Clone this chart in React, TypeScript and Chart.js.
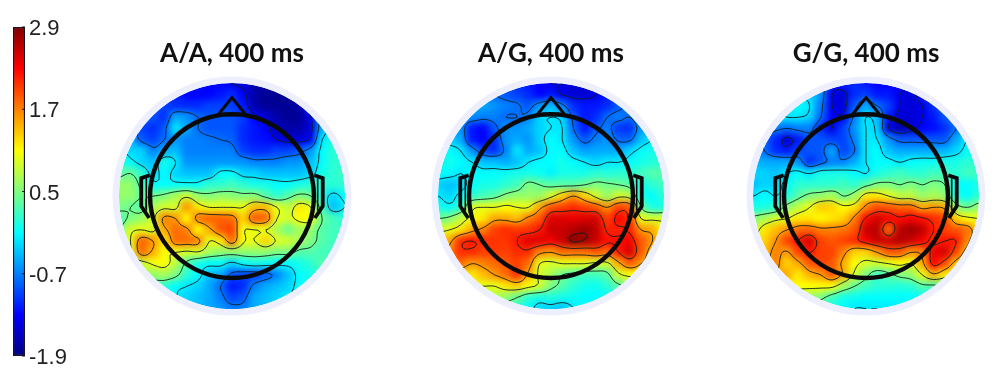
import React, { useEffect, useRef } from "react";
import { Chart, registerables } from "chart.js";
Chart.register(...registerables);

const TITLES = ["A/A, 400 ms", "A/G, 400 ms", "G/G, 400 ms"];
const CENTERS_X = [232, 551, 866];
const VALUE_MIN = -1.9;
const VALUE_MAX = 2.9;
const COLORBAR_TICKS = [-1.9, -0.7, 0.5, 1.7, 2.9];
const CONTOUR_LEVELS = [-1.4, -0.8, -0.2, 0.4, 1.0, 1.6, 2.2, 2.8];

const HEAD_AA = [
  [-.8,-.8,-.8,-.8,-.9,-1.0,-1.1,-1.2,-1.3,-1.3,-1.4,-1.5,-1.7,-1.7,-1.7,-1.6,-1.4,-1.0,-.6,-.3,-.2],
  [-.8,-.8,-.8,-.9,-1.0,-1.1,-1.3,-1.3,-1.3,-1.2,-1.1,-1.3,-1.7,-1.8,-1.8,-1.8,-1.5,-1.1,-.6,-.3,-.2],
  [-.6,-.7,-.8,-.9,-1.0,-1.1,-1.1,-1.1,-1.0,-1.0,-1.0,-1.2,-1.7,-1.8,-1.8,-1.8,-1.7,-1.2,-.6,-.3,-.2],
  [-.4,-.6,-.8,-.9,-1.1,-.5,-.6,-.8,-.9,-.9,-.9,-1.0,-1.3,-1.5,-1.7,-1.8,-1.8,-1.4,-.6,-.3,-.1],
  [-.3,-.6,-1.0,-1.1,-.9,-.2,-.5,-.8,-.9,-.9,-.9,-1.1,-1.2,-1.3,-1.6,-1.7,-1.7,-1.5,-.5,-.1,0],
  [-.2,-.4,-.9,-1.0,-.8,-.6,-.7,-.7,-.75,-.8,-.85,-1.1,-1.2,-1.25,-1.4,-1.5,-1.5,-1.3,-.2,0,.1],
  [-.1,-.3,-.3,-.7,-.5,-.4,-.7,-.7,-.7,-.7,-.7,-1,-1.1,-1.1,-1,-1,-.9,-.6,-.1,.1,.1],
  [.1,-.1,-.3,-.4,0,-.2,-.6,-.6,-.6,-.6,-.6,-.6,-.7,-.7,-.7,-.6,-.6,-.4,-.1,.1,.1],
  [.3,.4,.1,-.3,-.1,-.3,-.4,-.4,-.4,-.1,-.1,-.3,-.3,-.4,-.4,-.4,-.4,-.3,0,.1,.2],
  [.6,.6,.3,-.1,-.1,-.1,-.1,-.1,.1,.1,.2,.1,0,0,-.1,-.1,0,.1,.1,.1,.1],
  [.6,.6,.4,.4,.5,.7,.9,.6,.5,.6,.55,.5,.55,.3,.1,.3,.5,.4,0,-.3,-.1],
  [.5,.4,.3,.7,.9,.9,1.6,1.2,1,1,1,1,1.4,1.4,1,.8,1.2,1.0,.2,-.4,-.2],
  [.2,.5,.6,.9,1.7,1.6,1.1,1.75,1.85,1.85,1.8,1.3,1.9,1.85,1.0,.9,1.1,1.1,.4,.2,.1],
  [.4,.9,1.0,.9,1.5,1.8,1.7,1.1,1.5,1.9,2.0,1.05,1.0,1.0,.7,.4,.7,.6,.3,.2,.2],
  [.5,1.0,1.85,1.6,1.2,1.8,1.8,1.7,1.0,1.2,1.8,1.05,1.0,1.3,.95,.9,.7,.5,.3,.2,.2],
  [.4,.9,1.8,1.5,1.1,1.0,.9,.95,.7,.6,.6,.6,.6,.6,.5,.5,.3,.3,.2,.2,.2],
  [.4,.7,.8,1.05,1.1,.8,.3,0,-.1,-.1,-.3,-.1,0,-.05,-.1,-.1,0,.1,.3,.2,.2],
  [.4,.6,.7,.6,.7,.5,.1,-.1,-.4,-.5,-.9,-1,-1,-.9,-.7,-.4,-.1,0,.1,.2,.2],
  [.3,.3,.3,.2,.1,-.1,-.2,-.3,-.5,-.8,-1.2,-1.1,-.7,-.5,-.4,-.3,-.1,0,.1,.1,.1],
  [.1,.1,.1,0,-.1,-.2,-.3,-.4,-.5,-.7,-1.0,-.9,-.5,-.4,-.3,-.2,-.1,0,0,0,0],
  [0,0,-.1,-.1,-.2,-.3,-.3,-.4,-.5,-.6,-.7,-.7,-.5,-.4,-.3,-.2,-.1,-.1,0,0,0],
];

const HEAD_AG = [
  [-.7,-.7,-.7,-.7,-.7,-.8,-.9,-1.1,-1.2,-1.3,-1.4,-1.4,-1.5,-1.5,-1.4,-1.2,-1,-.8,-.6,-.4,-.3],
  [-.7,-.7,-.7,-.7,-.7,-.8,-.9,-1,-1.1,-1.3,-1.2,-1.4,-1.5,-1.5,-1.4,-1.2,-1,-.8,-.6,-.4,-.3],
  [-.6,-.6,-.6,-.6,-.5,-.6,-.7,-.75,-.9,-.6,-.4,-.7,-1.1,-1.2,-1.2,-1.1,-.9,-.7,-.6,-.4,-.3],
  [-.5,-.5,-.6,-.6,-.7,-.7,-.8,-.8,-.7,-.3,-.2,-.3,-.9,-1.2,-1.1,-.8,-.7,-.8,-.5,-.4,-.3],
  [-.4,-.5,-.6,-1.2,-1.3,-.9,-.6,-.6,-.5,-.3,-.2,-.2,-.8,-1.2,-.9,-.7,-1.05,-1.1,-.6,-.3,-.2],
  [-.3,-.3,-.5,-1.2,-1.3,-1.1,-.6,-.5,-.6,-.3,-.1,-.2,-.6,-.9,-.7,-.6,-.85,-.85,-.4,-.2,-.1],
  [-.2,-.1,-.2,-.6,-1,-1.1,-.7,-.2,-.5,-.4,-.1,-.1,-.4,-.55,-.5,-.5,-.5,-.3,-.1,0,0],
  [-.2,0,-.1,-.2,-.4,-.4,-.5,-.4,-.2,-.1,-.1,0,-.1,-.2,-.3,-.2,-.2,-.1,0,.05,.1],
  [-.1,-.1,-.2,-.1,-.1,-.1,-.05,0,0,-.05,-.15,0,0,0,.1,.05,.1,.1,.2,.3,.3],
  [-.3,-.4,-.3,-.1,0,0,.1,.2,.5,.4,.3,.3,.3,.4,.5,.45,.4,.3,0,.1,.2],
  [-.2,-.3,-.1,.1,.2,.3,.5,.6,.6,.6,.9,1.3,1.6,1.3,.9,.6,.9,.8,0,-.1,.1],
  [0,-.1,.1,.9,1.0,1.0,1.1,1,1.0,1.5,1.9,2,2.1,2.0,1.9,1.6,2.0,1.9,.4,0,0],
  [.4,.5,.8,1.1,1.2,1.5,1.5,1.4,1.7,1.9,2.45,2.45,2.4,2.45,2.5,2.0,2.3,2.1,1.0,.9,.9],
  [.9,1,1.2,1.5,1.7,2.0,2.1,2.05,2.05,2.2,2.55,2.55,2.65,2.75,2.6,2.15,2.15,2.15,1.6,1.5,1.1],
  [1.4,1.5,2.1,2.2,2.1,2.05,2.05,2.2,2.45,2.45,2.35,2.55,2.85,2.75,2.55,2.25,2.25,2.35,1.9,1.6,1.3],
  [1.5,1.7,2.1,2.1,2.0,2.05,2.0,2.1,2.1,1.7,1.6,1.8,1.8,1.8,1.9,1.8,2.2,2.5,1.9,1.4,1.2],
  [1.5,1.7,1.8,1.6,1.7,1.8,1.9,2.0,1.8,1.0,.9,1.0,1.0,1.0,.9,.9,1.5,1.9,1.6,1.3,1.1],
  [1.3,1.3,1.3,1.2,1.4,1.6,1.8,2.1,1.5,.9,.7,.4,.3,.2,.2,.3,.9,1.1,1.1,1,.9],
  [1.1,1.1,1,1.0,1.0,1.0,1.2,1.3,1.1,.9,.5,.3,.1,0,-.05,.1,.3,.5,.6,.6,.6],
  [.8,.8,.8,.8,.7,.7,.6,.4,.1,0,.05,0,-.05,-.1,-.1,-.1,0,.2,.3,.3,.3],
  [.5,.5,.5,.5,.4,.3,.2,.1,-.1,-.3,-.3,-.4,-.2,-.1,-.1,-.1,0,.1,.1,.1,.1],
];

const HEAD_GG = [
  [-.2,-.2,-.2,-.2,-.2,-.3,-.6,-1.2,-1.2,-1.1,-1.2,-1.3,-1.3,-1.3,-1.3,-1.2,-.9,-.7,-.5,-.3,-.2],
  [-.2,-.2,-.2,-.2,-.2,-.3,-.6,-1.4,-1.5,-1.1,-1,-1.2,-1.2,-1.4,-1.5,-1.2,-.9,-.7,-.5,-.3,-.2],
  [-.2,-.2,-.2,-.2,-.1,-.2,-.7,-1.4,-1.5,-.9,-.5,-.8,-1,-1.4,-1.5,-1.4,-1.1,-.8,-.5,-.3,-.2],
  [-.4,-.4,-.3,-.2,-.2,-.3,-.8,-1.3,-1.3,-.7,-.2,-.4,-1.2,-1.5,-1.5,-1.4,-1.2,-.9,-.6,-.4,-.3],
  [-.6,-.6,-.7,-.8,-.7,-.7,-1.1,-1.4,-1,-.6,-.2,-.3,-1.4,-1.7,-1.5,-1.3,-1.25,-1.1,-.8,-.4,-.3],
  [-.7,-.8,-1.15,-1.5,-1.2,-.9,-.9,-1,-1,-.7,-.2,-.2,-.6,-.9,-.9,-.9,-.9,-.9,-.5,-.2,-.2],
  [-.6,-.8,-1.1,-1.2,-1.0,-.9,-.9,-.5,-1,-.8,-.2,-.1,-.4,-.5,-.5,-.5,-.5,-.45,-.3,-.1,-.1],
  [-.4,-.5,-.5,-.5,-.6,-1.1,-.9,-.7,-.7,-.5,-.2,-.1,-.1,-.2,-.1,-.05,-.05,0,0,.1,.1],
  [-.3,-.3,-.4,-.2,-.1,-.2,0,0,0,-.1,-.2,0,.1,.2,.1,.1,.2,.2,.1,.2,.2],
  [-.4,-.3,-.3,-.1,.1,.1,.1,.1,.2,.1,.3,.5,.5,.4,.5,.4,.5,.4,-.1,-.1,0],
  [-.2,-.1,-.2,0,.3,.5,.6,.7,.4,.6,1.2,1.2,1.0,.8,.8,.6,.7,.6,0,-.1,.1],
  [0,0,.1,.55,.8,1.0,1.35,1.3,1.1,1.2,1.7,1.95,1.9,1.8,1.8,1.5,1.6,1.5,.6,.4,.6],
  [.5,.7,.9,1.0,1.2,1.2,1.1,1.2,1.3,1.7,2.25,2.5,2.35,2.25,2.35,2.25,2.1,2.0,1.3,1.1,1.0],
  [.8,1.2,1.4,1.6,1.8,1.85,1.7,1.7,1.75,1.9,2.55,2.65,1.8,2.6,2.75,2.6,2.2,2.0,1.9,1.8,1.3],
  [1.0,1.3,1.6,2.0,2.2,2.5,2.0,1.9,2.0,2.1,2.35,2.55,2.55,2.65,2.55,2.35,2.1,2.2,2.2,1.7,1.2],
  [1.2,1.4,1.7,1.55,2.0,2.2,2.0,2.0,1.7,1.3,1.3,1.6,1.9,1.9,1.6,1.7,2.4,2.5,2.0,1.4,1.1],
  [1.4,1.5,1.7,1.3,1.5,1.9,2,1.9,1.5,1.1,.9,.9,1.0,1.1,1.0,1.5,2.3,2.0,1.4,1.1,.9],
  [1.4,1.5,1.5,1.5,1.2,1.45,1.6,1.9,1.5,.9,.5,.15,.3,.5,.6,1.0,1.5,1.2,1,.8,.7],
  [1.1,1.1,1.1,1.1,1.1,1.1,1.1,1.1,.7,.4,.2,.1,.1,.05,.1,.3,.3,.4,.4,.4,.4],
  [.8,.8,.8,.7,.6,.6,.5,.2,0,-.05,-.1,-.1,-.1,-.1,-.1,-.1,0,.1,.2,.2,.2],
  [.5,.5,.5,.4,.3,.2,.1,0,-.1,-.2,-.2,-.2,-.2,-.2,-.1,-.1,-.1,0,0,0,0],
];
const GRIDS = [HEAD_AA, HEAD_AG, HEAD_GG];

const NOSE = [{ x: -1.25, y: 7.2 }, { x: 0, y: 8.75 }, { x: 1.25, y: 7.2 }, { x: -1.25, y: 7.2 }];
const EAR_LEFT = [{ x: -7.3, y: 1.85 }, { x: -8.05, y: 1.6 }, { x: -8.05, y: -0.9 }, { x: -7.35, y: -1.95 }];
const EAR_LEFT_INNER = [{ x: -7.6, y: 1.6 }, { x: -7.6, y: -1.3 }];
const EAR_RIGHT = EAR_LEFT.map((p) => ({ x: -p.x, y: p.y }));
const EAR_RIGHT_INNER = EAR_LEFT_INNER.map((p) => ({ x: -p.x, y: p.y }));

const DISC_R = 10.03;
const RING_R = 10.6;
const HEAD_R = 7.27;

function jet(v: number): string {
  const t = (v - VALUE_MIN) / (VALUE_MAX - VALUE_MIN);
  const c = (x: number) => Math.round(255 * Math.max(0, Math.min(1, x)));
  return `rgb(${c(1.5 - Math.abs(4 * t - 3))},${c(1.5 - Math.abs(4 * t - 2))},${c(1.5 - Math.abs(4 * t - 1))})`;
}

function upsample(grid: number[][], f: number): number[][] {
  const cr = (a: number, b: number, c: number, d: number, t: number) =>
    0.5 * (2 * b + (c - a) * t + (2 * a - 5 * b + 4 * c - d) * t * t + (3 * b - a - 3 * c + d) * t * t * t);
  const line = (arr: number[]) => {
    const out: number[] = [];
    for (let i = 0; i < arr.length - 1; i++)
      for (let k = 0; k < f; k++)
        out.push(cr(arr[Math.max(0, i - 1)], arr[i], arr[i + 1], arr[Math.min(arr.length - 1, i + 2)], k / f));
    out.push(arr[arr.length - 1]);
    return out;
  };
  const rows = grid.map(line);
  const cols = rows[0].map((_, x) => line(rows.map((r) => r[x])));
  return cols[0].map((_, y) => cols.map((col) => col[y]));
}

const headPlugin = {
  id: "headPlugin",
  afterDatasetDraw(chart: any, args: any) {
    if (!chart.data.datasets[args.index].isHeat) return;
    const ctx = chart.ctx as CanvasRenderingContext2D;
    const sx = chart.scales.x;
    const sy = chart.scales.y;
    const area = chart.chartArea;
    const cx = sx.getPixelForValue(0);
    const cy = sy.getPixelForValue(0);
    const unit = sx.getPixelForValue(1) - cx;
    ctx.save();
    ctx.beginPath();
    ctx.rect(area.left, area.top, area.right - area.left, area.bottom - area.top);
    ctx.clip();
    ctx.filter = `blur(${0.34 * unit}px)`;
    ctx.drawImage(chart.canvas, 0, 0);
    ctx.restore();

    ctx.save();
    ctx.fillStyle = "#ffffff";
    ctx.beginPath();
    ctx.rect(area.left - 2, area.top - 1.5, area.right - area.left + 4, area.bottom - area.top + 3);
    ctx.arc(cx, cy, DISC_R * unit, 0, Math.PI * 2, true);
    ctx.fill("evenodd");
    ctx.restore();

    ctx.save();
    ctx.strokeStyle = "#edf0fc";
    ctx.lineWidth = (RING_R - DISC_R) * unit;
    ctx.beginPath();
    ctx.arc(cx, cy, ((RING_R + DISC_R) / 2) * unit, 0, Math.PI * 2);
    ctx.stroke();

    ctx.beginPath();
    ctx.arc(cx, cy, DISC_R * unit, 0, Math.PI * 2);
    ctx.clip();
    const f = 4;
    const fine = upsample(chart.data.datasets[args.index].grid, f);
    const px = (i: number) => sx.getPixelForValue(i / f - 10);
    const py = (j: number) => sy.getPixelForValue(10 - j / f);
    ctx.strokeStyle = "rgba(15,30,30,0.9)";
    ctx.lineWidth = 1;
    ctx.beginPath();
    for (const L of CONTOUR_LEVELS) {
      for (let j = 0; j < fine.length - 1; j++) {
        for (let i = 0; i < fine[0].length - 1; i++) {
          const a = fine[j][i], b = fine[j][i + 1], c = fine[j + 1][i + 1], d = fine[j + 1][i];
          const pts: [number, number][] = [];
          if (a < L !== b < L) pts.push([i + (L - a) / (b - a), j]);
          if (b < L !== c < L) pts.push([i + 1, j + (L - b) / (c - b)]);
          if (d < L !== c < L) pts.push([i + (L - d) / (c - d), j + 1]);
          if (a < L !== d < L) pts.push([i, j + (L - a) / (d - a)]);
          for (let k = 0; k + 1 < pts.length; k += 2) {
            ctx.moveTo(px(pts[k][0]), py(pts[k][1]));
            ctx.lineTo(px(pts[k + 1][0]), py(pts[k + 1][1]));
          }
        }
      }
    }
    ctx.stroke();
    ctx.restore();

    ctx.save();
    ctx.strokeStyle = "#0a0a0a";
    ctx.lineWidth = 4.4;
    ctx.beginPath();
    ctx.arc(cx, cy, HEAD_R * unit, 0, Math.PI * 2);
    ctx.stroke();
    ctx.restore();
  },
};

const barTicksPlugin = {
  id: "barTicks",
  afterDraw(chart: any) {
    const { ctx, chartArea, scales } = chart;
    ctx.save();
    ctx.strokeStyle = "#111";
    ctx.lineWidth = 1;
    for (const v of COLORBAR_TICKS) {
      const y = scales.y.getPixelForValue(v);
      ctx.beginPath();
      ctx.moveTo(chartArea.right - 3, y);
      ctx.lineTo(chartArea.right, y);
      ctx.stroke();
    }
    ctx.restore();
  },
};

function HeadChart({ index }: { index: number }) {
  const ref = useRef<HTMLCanvasElement>(null);
  useEffect(() => {
    const grid = GRIDS[index];
    const cells: any[] = [];
    const colors: string[] = [];
    grid.forEach((row, j) =>
      row.forEach((v, i) => {
        cells.push({ x: i - 10, y: 10 - j });
        colors.push(jet(v));
      })
    );
    const outline = (data: any[], width: number) => ({
      type: "scatter", data, showLine: true, borderColor: "#0a0a0a", borderWidth: width,
      pointRadius: 0, fill: false, tension: 0,
    });
    const chart = new Chart(ref.current!, {
      type: "scatter",
      data: {
        datasets: [
          outline(NOSE, 3),
          outline(EAR_LEFT, 3.8),
          outline(EAR_LEFT_INNER, 1.6),
          outline(EAR_RIGHT, 3.8),
          outline(EAR_RIGHT_INNER, 1.6),
          {
            isHeat: true, grid, data: cells, pointStyle: "rect", pointRadius: 8.6, pointHoverRadius: 8.6,
            pointBackgroundColor: colors, pointBorderWidth: 0, borderWidth: 0,
          } as any,
        ],
      } as any,
      options: {
        animation: false, responsive: false,
        layout: { padding: { left: 26, right: 26, top: 0, bottom: 58 } },
        plugins: {
          legend: { display: false }, tooltip: { enabled: false },
          title: {
            display: true, text: TITLES[index], color: "#111",
            font: { family: "Lato", weight: "bold", size: 26 },
            padding: { top: 38, bottom: 3 },
          },
        },
        scales: {
          x: { type: "linear", min: -11, max: 11, display: false },
          y: { type: "linear", min: -11, max: 11, display: false },
        },
      } as any,
      plugins: [headPlugin] as any,
    });
    return () => chart.destroy();
  }, [index]);
  return (
    <canvas
      ref={ref}
      width={300}
      height={378}
      style={{ position: "absolute", left: CENTERS_X[index] - 150, top: 0, width: 300, height: 378 }}
    />
  );
}

function ColorBar() {
  const ref = useRef<HTMLCanvasElement>(null);
  useEffect(() => {
    const chart = new Chart(ref.current!, {
      type: "bar",
      data: {
        labels: [""],
        datasets: [{
          data: [[VALUE_MIN, VALUE_MAX]],
          barPercentage: 1, categoryPercentage: 1,
          borderColor: "#15151f", borderWidth: 1.5, borderSkipped: false,
          backgroundColor: (c: any) => {
            const { chart: ch } = c;
            if (!ch.chartArea) return "#888";
            const g = ch.ctx.createLinearGradient(0, ch.chartArea.bottom, 0, ch.chartArea.top);
            for (let k = 0; k <= 16; k++) g.addColorStop(k / 16, jet(VALUE_MIN + ((VALUE_MAX - VALUE_MIN) * k) / 16));
            return g;
          },
        }],
      } as any,
      options: {
        animation: false, responsive: false,
        layout: { padding: { left: 13, right: 0, top: 27, bottom: 22 } },
        plugins: { legend: { display: false }, tooltip: { enabled: false } },
        scales: {
          x: { display: false },
          y: {
            position: "right", min: VALUE_MIN, max: VALUE_MAX,
            grid: { display: false, drawTicks: false }, border: { display: false },
            afterFit: (s: any) => { s.width = 55; },
            afterBuildTicks: (s: any) => { s.ticks = COLORBAR_TICKS.map((value) => ({ value })); },
            ticks: {
              autoSkip: false, padding: 4, color: "#222", labelOffset: 2,
              font: { family: "Liberation Sans", size: 22 },
              callback: (v: any) => Number(v).toFixed(1),
            },
          },
        },
      } as any,
      plugins: [barTicksPlugin] as any,
    });
    return () => chart.destroy();
  }, []);
  return (
    <canvas ref={ref} width={80} height={378} style={{ position: "absolute", left: 0, top: 0, width: 80, height: 378 }} />
  );
}

export default function App() {
  return (
    <div style={{ position: "absolute", left: 0, top: 0, width: 1000, height: 378, background: "#fff", overflow: "hidden" }}>
      <ColorBar />
      {TITLES.map((_, i) => <HeadChart key={i} index={i} />)}
    </div>
  );
}
